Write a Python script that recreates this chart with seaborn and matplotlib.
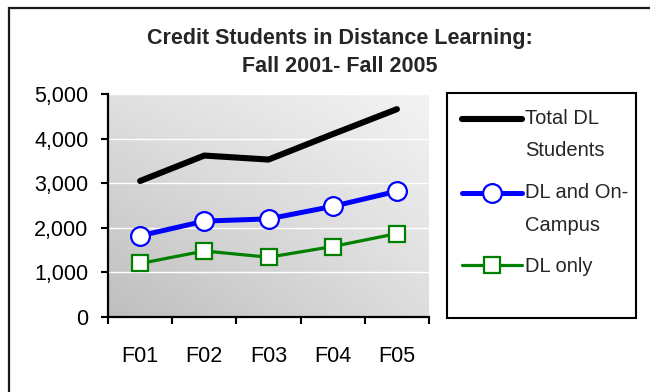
import numpy as np
import pandas as pd
import matplotlib
matplotlib.use("Agg")
import matplotlib.pyplot as plt
import seaborn as sns
from matplotlib.legend_handler import HandlerLine2D
from matplotlib.patches import Rectangle
from matplotlib.ticker import FuncFormatter

# --- data -------------------------------------------------------------
terms = ["F01", "F02", "F03", "F04", "F05"]
total_dl = [3050, 3620, 3530, 4100, 4660]
dl_and_campus = [1820, 2150, 2200, 2480, 2820]
dl_only = [1200, 1480, 1340, 1580, 1870]
y_ticks = [0, 1000, 2000, 3000, 4000, 5000]
title_lines = ["Credit Students in Distance Learning:", "Fall 2001- Fall 2005"]
series_labels = ["Total DL\nStudents", "DL and On-\nCampus", "DL only"]

df = pd.DataFrame({"term": terms, "total": total_dl,
                   "both": dl_and_campus, "only": dl_only})

sns.set_theme(style="ticks")
plt.rcParams["font.family"] = ["Liberation Sans Narrow", "Liberation Sans", "DejaVu Sans"]
FS = 15.5
LEG_FS = 14.5

W, H = 650, 392
fig = plt.figure(figsize=(W / 100, H / 100), dpi=100)
fig.patch.set_facecolor("white")
ax = fig.add_axes([108 / W, 75 / H, 321 / W, 223 / H])

# diagonal grey gradient behind the plot area
u = np.linspace(0, 1, 256)[None, :]
v = np.linspace(1, 0, 256)[:, None]
tl, tr, bl, br = 224, 243, 190, 221
shade = (bl * (1 - u) * (1 - v) + br * u * (1 - v) + tl * (1 - u) * v + tr * u * v) / 255
ax.imshow(np.dstack([shade] * 3), extent=(-0.5, 4.5, 0, 5000), origin="upper",
          aspect="auto", interpolation="bilinear", zorder=-1)

# series
sns.lineplot(data=df, x="term", y="total", ax=ax, sort=False, color="black",
             lw=4.4, solid_capstyle="round", legend=False)
sns.lineplot(data=df, x="term", y="both", ax=ax, sort=False, color="#0000ff",
             lw=3.6, marker="o", markersize=13.5, markerfacecolor="white",
             markeredgecolor="#0000ff", markeredgewidth=1.6, legend=False)
sns.lineplot(data=df, x="term", y="only", ax=ax, sort=False, color="#008000",
             lw=2.3, marker="s", markersize=11.5, markerfacecolor="white",
             markeredgecolor="#008000", markeredgewidth=1.6, legend=False)

ax.set_xlim(-0.5, 4.5)
ax.set_ylim(0, 5000)
ax.set_xlabel("")
ax.set_ylabel("")

# axes styling
for side in ("top", "right"):
    ax.spines[side].set_visible(False)
for side in ("left", "bottom"):
    ax.spines[side].set_color("black")
    ax.spines[side].set_linewidth(1.6)

ax.set_axisbelow(True)
ax.yaxis.grid(True, color="white", lw=1.0)
ax.xaxis.grid(False)

ax.set_yticks(y_ticks)
ax.yaxis.set_major_formatter(FuncFormatter(lambda val, pos: f"{val:,.0f}"))
ax.tick_params(axis="y", direction="out", length=5, width=1.5, pad=9,
               labelsize=FS, colors="black")
ax.set_xticks(range(len(terms)))
ax.set_xticklabels(terms)
ax.set_xticks(np.arange(-0.5, len(terms), 1.0), minor=True)
ax.tick_params(axis="x", which="major", length=0, pad=21, labelsize=FS, colors="black")
ax.tick_params(axis="x", which="minor", direction="out", length=5, width=1.5, colors="black")

# title
fig.text(340 / W, 1 - 44 / H, title_lines[0], ha="center", va="baseline",
         fontsize=FS, fontweight="bold")
fig.text(340 / W, 1 - 72 / H, title_lines[1], ha="center", va="baseline",
         fontsize=FS, fontweight="bold")


class FirstLineHandler(HandlerLine2D):
    """Line handle aligned with the first line of a multi-line label."""

    def __init__(self, shift, **kw):
        super().__init__(**kw)
        self.shift = shift

    def create_artists(self, legend, orig_handle, xdescent, ydescent,
                       width, height, fontsize, trans):
        artists = super().create_artists(legend, orig_handle, xdescent, ydescent,
                                         width, height, fontsize, trans)
        for a in artists:
            a.set_ydata(np.asarray(a.get_ydata(), dtype=float) + self.shift)
        return artists


handles = ax.get_lines()[:3]
shift = 12.0
hmap = {handles[0]: FirstLineHandler(shift),
        handles[1]: FirstLineHandler(shift),
        handles[2]: FirstLineHandler(0.0)}
leg = fig.legend(handles, series_labels, loc="upper left",
                 bbox_to_anchor=(462 / W, 1 - 109 / H), frameon=False,
                 handlelength=3.0, handletextpad=0.15, labelspacing=1.12,
                 borderpad=0, borderaxespad=0, fontsize=LEG_FS, handler_map=hmap)
for t in leg.get_texts():
    t.set_linespacing(1.9)

# legend box
fig.add_artist(Rectangle((447 / W, 1 - 318 / H), (636 - 447) / W, (318 - 93) / H,
                         transform=fig.transFigure, fill=False, lw=1.5,
                         ec="black"))
# chart-area border
fig.add_artist(Rectangle((8.5 / W, -0.1), 1.2, 1.1 - 8 / H,
                         transform=fig.transFigure, fill=False, lw=1.6,
                         ec="#1a1a1a"))

fig.savefig("out.png", dpi=100)
